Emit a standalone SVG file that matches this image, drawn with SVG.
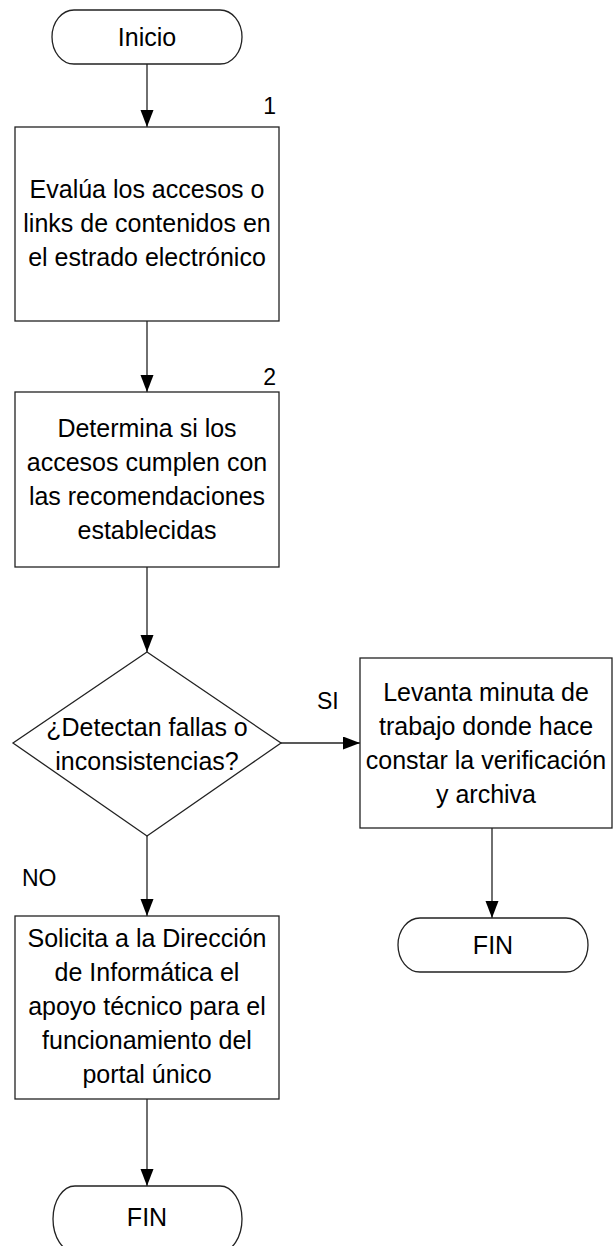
<svg xmlns="http://www.w3.org/2000/svg" width="613" height="1246" viewBox="0 0 613 1246">
<style>
.shape{fill:#fff;stroke:#222;stroke-width:1.3}
.conn{fill:none;stroke:#222;stroke-width:1.3}
text{font-family:"Liberation Sans",Arial,sans-serif;fill:#000}
.t{font-size:25px;text-anchor:middle}
.lbl{font-size:23px}
</style>
<defs>
<marker id="arr" markerUnits="userSpaceOnUse" markerWidth="18" markerHeight="14" refX="17" refY="6.5" orient="auto">
<path d="M0,0 L17,6.5 L0,13 z" fill="#000"/>
</marker>
</defs>
<rect width="613" height="1246" fill="#fff"/>
<g id="connectors">
<line class="conn" x1="147" y1="64" x2="147" y2="127" marker-end="url(#arr)"/>
<line class="conn" x1="147" y1="321" x2="147" y2="392" marker-end="url(#arr)"/>
<line class="conn" x1="147" y1="567" x2="147" y2="652" marker-end="url(#arr)"/>
<line class="conn" x1="281" y1="743" x2="360" y2="743" marker-end="url(#arr)"/>
<line class="conn" x1="147" y1="836" x2="147" y2="916" marker-end="url(#arr)"/>
<line class="conn" x1="492" y1="828" x2="492" y2="918" marker-end="url(#arr)"/>
<line class="conn" x1="147" y1="1099" x2="147" y2="1186" marker-end="url(#arr)"/>
<text class="lbl" x="317" y="709">SI</text>
<text class="lbl" x="22" y="886">NO</text>
</g>
<g id="inicio">
<rect class="shape" x="52" y="10" width="190" height="54" rx="22" ry="27"/>
<text class="t" x="147" y="46">Inicio</text>
</g>
<g id="step1">
<rect class="shape" x="15" y="127" width="264" height="194"/>
<text class="lbl" x="276" y="114" text-anchor="end">1</text>
<text class="t" x="147" y="198">Evalúa los accesos o</text>
<text class="t" x="147" y="232">links de contenidos en</text>
<text class="t" x="147" y="266">el estrado electrónico</text>
</g>
<g id="step2">
<rect class="shape" x="15" y="392" width="264" height="175"/>
<text class="lbl" x="276" y="385" text-anchor="end">2</text>
<text class="t" x="147" y="437">Determina si los</text>
<text class="t" x="147" y="471">accesos cumplen con</text>
<text class="t" x="147" y="505">las recomendaciones</text>
<text class="t" x="147" y="539">establecidas</text>
</g>
<g id="decision">
<polygon class="shape" points="147,652 281,743 147,836 13,743"/>
<text class="t" x="147" y="736">¿Detectan fallas o</text>
<text class="t" x="147" y="770">inconsistencias?</text>
</g>
<g id="levanta">
<rect class="shape" x="360" y="658" width="252" height="170"/>
<text class="t" x="486" y="701">Levanta minuta de</text>
<text class="t" x="486" y="735">trabajo donde hace</text>
<text class="t" x="486" y="769">constar la verificación</text>
<text class="t" x="486" y="803">y archiva</text>
</g>
<g id="fin1">
<rect class="shape" x="398" y="918" width="190" height="54" rx="22" ry="27"/>
<text class="t" x="493" y="954">FIN</text>
</g>
<g id="solicita">
<rect class="shape" x="15" y="916" width="264" height="183"/>
<text class="t" x="147" y="947">Solicita a la Dirección</text>
<text class="t" x="147" y="981">de Informática el</text>
<text class="t" x="147" y="1015">apoyo técnico para el</text>
<text class="t" x="147" y="1049">funcionamiento del</text>
<text class="t" x="147" y="1083">portal único</text>
</g>
<g id="fin2">
<rect class="shape" x="53" y="1186" width="189" height="66" rx="22" ry="33"/>
<text class="t" x="147" y="1226">FIN</text>
</g>
</svg>
